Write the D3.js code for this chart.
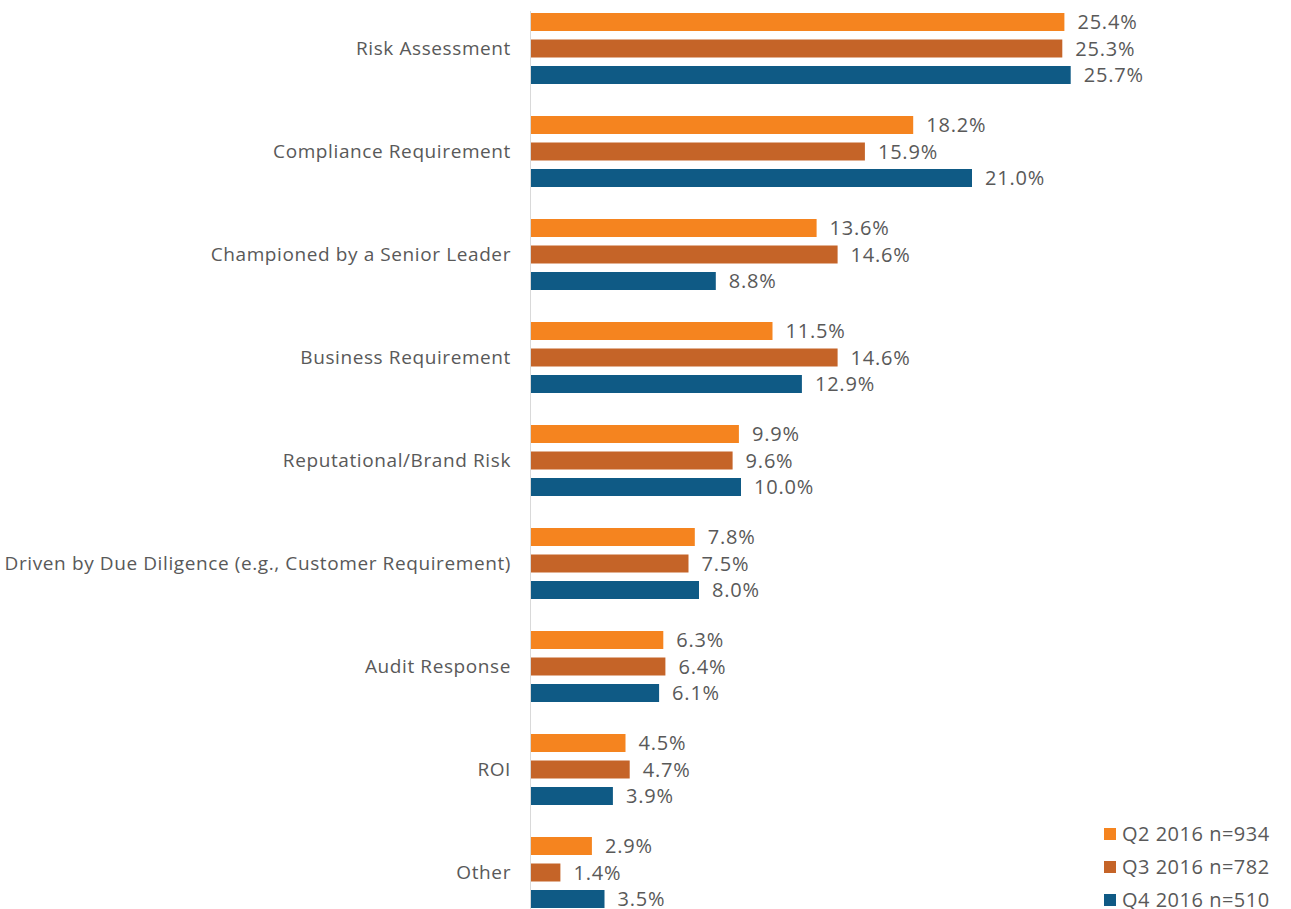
<!DOCTYPE html>
<html>
<head>
<meta charset="utf-8">
<script src="https://cdn.jsdelivr.net/npm/d3@7"></script>
<style>
  body { margin: 0; background: #fff; }
  text { font-family: "Open Sans", sans-serif; fill: #595959; }
</style>
</head>
<body>
<svg id="chart" width="1291" height="909"></svg>
<script>
const categories = ["Risk Assessment", "Compliance Requirement", "Championed by a Senior Leader",
  "Business Requirement", "Reputational/Brand Risk", "Driven by Due Diligence (e.g., Customer Requirement)",
  "Audit Response", "ROI", "Other"];
const seriesNames = ["Q2 2016 n=934", "Q3 2016 n=782", "Q4 2016 n=510"];
const q2 = [25.4, 18.2, 13.6, 11.5, 9.9, 7.8, 6.3, 4.5, 2.9];
const q3 = [25.3, 15.9, 14.6, 14.6, 9.6, 7.5, 6.4, 4.7, 1.4];
const q4 = [25.7, 21.0, 8.8, 12.9, 10.0, 8.0, 6.1, 3.9, 3.5];
const colors = ["#F5841F", "#C56428", "#0F5A85"];

const svg = d3.select('#chart');

// scales
const x = d3.scaleLinear().domain([0, 30]).range([531, 531 + 630]);
const y = d3.scaleBand().domain(categories).range([13, 908]).paddingInner(32 / 103);
const ySub = d3.scaleBand().domain(seriesNames).range([0, y.bandwidth()]).paddingInner(8.5 / 26.5);

const allSeries = [q2, q3, q4];
const rows = categories.map((c, i) => ({
  cat: c,
  vals: seriesNames.map((s, j) => ({ series: s, value: allSeries[j][i], color: colors[j] }))
}));

// axis line
svg.append('line')
  .attr('x1', 530.5).attr('x2', 530.5)
  .attr('y1', 11).attr('y2', 909)
  .attr('stroke', '#d9d9d9').attr('stroke-width', 1);

const groups = svg.selectAll('g.group')
  .data(rows)
  .join('g')
  .attr('class', 'group')
  .attr('transform', d => `translate(0,${y(d.cat)})`);

groups.selectAll('rect')
  .data(d => d.vals)
  .join('rect')
  .attr('x', x(0))
  .attr('y', d => ySub(d.series))
  .attr('height', ySub.bandwidth())
  .attr('width', d => x(d.value) - x(0))
  .attr('fill', d => d.color);

groups.selectAll('text.val')
  .data(d => d.vals)
  .join('text')
  .attr('class', 'val')
  .attr('x', d => x(d.value) + 13)
  .attr('y', d => ySub(d.series) + ySub.bandwidth() / 2)
  .attr('dy', '0.35em')
  .style('font-size', '20px')
  .style('letter-spacing', '0.8px')
  .text(d => d.value.toFixed(1) + '%');

// category labels
groups.append('text')
  .attr('x', 511)
  .attr('y', ySub(seriesNames[1]) + ySub.bandwidth() / 2)
  .attr('dy', '0.36em')
  .attr('text-anchor', 'end')
  .style('font-size', '19px')
  .style('letter-spacing', '0.6px')
  .text(d => d.cat);

// legend
const legend = svg.append('g').attr('transform', 'translate(1104,828)');
const li = legend.selectAll('g')
  .data(seriesNames)
  .join('g')
  .attr('transform', (d, i) => `translate(0,${i * 33})`);
li.append('rect').attr('width', 12).attr('height', 12).attr('fill', (d, i) => colors[i]);
li.append('text')
  .attr('x', 18).attr('y', 6).attr('dy', '0.35em')
  .style('font-size', '20px')
  .style('letter-spacing', '0.5px')
  .text(d => d);
</script>
</body>
</html>
